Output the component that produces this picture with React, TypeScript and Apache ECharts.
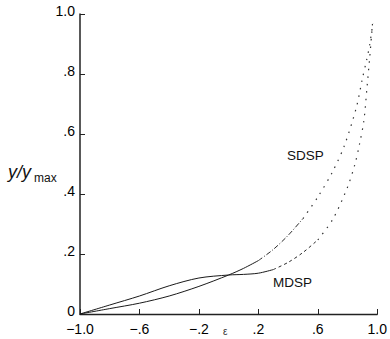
import React, { useEffect, useRef } from "react";
import * as echarts from "echarts";

const xTicks = [-1.0, -0.6, -0.2, 0.2, 0.6, 1.0];
const yTicks = [0, 0.2, 0.4, 0.6, 0.8, 1.0];

const sdspEps = [-1, -0.8, -0.6, -0.4, -0.2, 0, 0.1, 0.2, 0.3, 0.4, 0.5, 0.6, 0.7, 0.78, 0.86, 0.9, 0.93, 0.95, 0.97];
const sdspVal = [0, 0.018, 0.036, 0.06, 0.092, 0.13, 0.152, 0.178, 0.215, 0.262, 0.318, 0.39, 0.475, 0.563, 0.69, 0.785, 0.85, 0.9, 0.97];

const mdspEps = [-1, -0.8, -0.6, -0.4, -0.2, 0, 0.1, 0.2, 0.3, 0.4, 0.5, 0.6, 0.7, 0.8, 0.85, 0.88, 0.91, 0.93, 0.95, 0.97];
const mdspVal = [0, 0.03, 0.06, 0.094, 0.12, 0.13, 0.132, 0.136, 0.148, 0.172, 0.205, 0.247, 0.315, 0.423, 0.5, 0.565, 0.645, 0.75, 0.86, 0.98];

const sdspBreaks = [7, 10];
const mdspBreaks = [8, 11];

const FONT = "Liberation Sans, Arial, sans-serif";

function fmt(v: number): string {
  const r = Math.round(v * 10) / 10;
  if (r === 0) return "0";
  const a = Math.abs(r);
  const s = a >= 1 ? a.toFixed(1) : a.toFixed(1).slice(1);
  return (r < 0 ? "\u2212" : "") + s;
}

function pairs(xs: number[], ys: number[], from: number, to: number) {
  const out: number[][] = [];
  for (let i = from; i <= to && i < xs.length; i++) out.push([xs[i], ys[i]]);
  return out;
}

function segs(name: string, xs: number[], ys: number[], br: number[], dash2: number[]) {
  const base = { type: "line", name, showSymbol: false, smooth: 0.3, silent: true };
  return [
    { ...base, data: pairs(xs, ys, 0, br[0]), lineStyle: { color: "#1a1a1a", width: 1 } },
    { ...base, data: pairs(xs, ys, br[0], br[1]), lineStyle: { color: "#2a2a2a", width: 1, type: dash2 } },
    { ...base, data: pairs(xs, ys, br[1], xs.length - 1), lineStyle: { color: "#333", width: 1.2, type: [1.5, 6] } },
  ];
}

export default function App() {
  const ref = useRef<HTMLDivElement>(null);
  useEffect(() => {
    if (!ref.current) return;
    const chart = echarts.init(ref.current, undefined, { renderer: "svg" });
    const series: any[] = [
      ...segs("SDSP", sdspEps, sdspVal, sdspBreaks, [5, 2, 1, 2]),
      ...segs("MDSP", mdspEps, mdspVal, mdspBreaks, [3, 3]),
    ];
    chart.setOption({
      animation: false,
      backgroundColor: "#ffffff",
      grid: { left: 80, right: 9, top: 14, bottom: 25, containLabel: false },
      xAxis: [
        {
          type: "value",
          min: -1,
          max: 1,
          interval: 0.4,
          axisLine: { show: true, onZero: false, lineStyle: { color: "#222", width: 1.3 } },
          axisTick: { show: true, inside: true, length: 5, lineStyle: { color: "#222" } },
          splitLine: { show: false },
          axisLabel: {
            margin: 8,
            color: "#000",
            fontSize: 14,
            fontFamily: FONT,
            formatter: (v: number) => fmt(v),
            customValues: xTicks,
          },
        },
      ],
      yAxis: [
        {
          type: "value",
          min: 0,
          max: 1,
          interval: 0.2,
          axisLine: { show: true, onZero: false, lineStyle: { color: "#222", width: 1.5 } },
          axisTick: { show: true, inside: true, length: 5, lineStyle: { color: "#222", width: 1 } },
          splitLine: { show: false },
          axisLabel: {
            margin: 5,
            color: "#000",
            fontSize: 14,
            fontFamily: FONT,
            verticalAlign: "bottom",
            lineHeight: 16,
            padding: [0, 0, -5, 0],
            formatter: (v: number) => fmt(v),
            customValues: yTicks,
          },
        },
      ],
      graphic: [
        { type: "text", left: 8, top: 163, style: { text: "y/y", font: "italic 18px " + FONT, fill: "#111" } },
        { type: "text", left: 34, top: 172, style: { text: "max", font: "12px " + FONT, fill: "#111" } },
        { type: "text", left: 287, top: 148, style: { text: "SDSP", font: "13.5px " + FONT, fill: "#111" } },
        { type: "text", left: 273, top: 275, style: { text: "MDSP", font: "13.5px " + FONT, fill: "#111" } },
        { type: "text", left: 223, top: 326, style: { text: "\u03b5", font: "10px " + FONT, fill: "#333" } },
      ],
      series,
    });
    return () => chart.dispose();
  }, []);
  return (
    <div
      ref={ref}
      style={{ position: "fixed", left: 0, top: 0, width: 390, height: 339, background: "#fff" }}
    />
  );
}
